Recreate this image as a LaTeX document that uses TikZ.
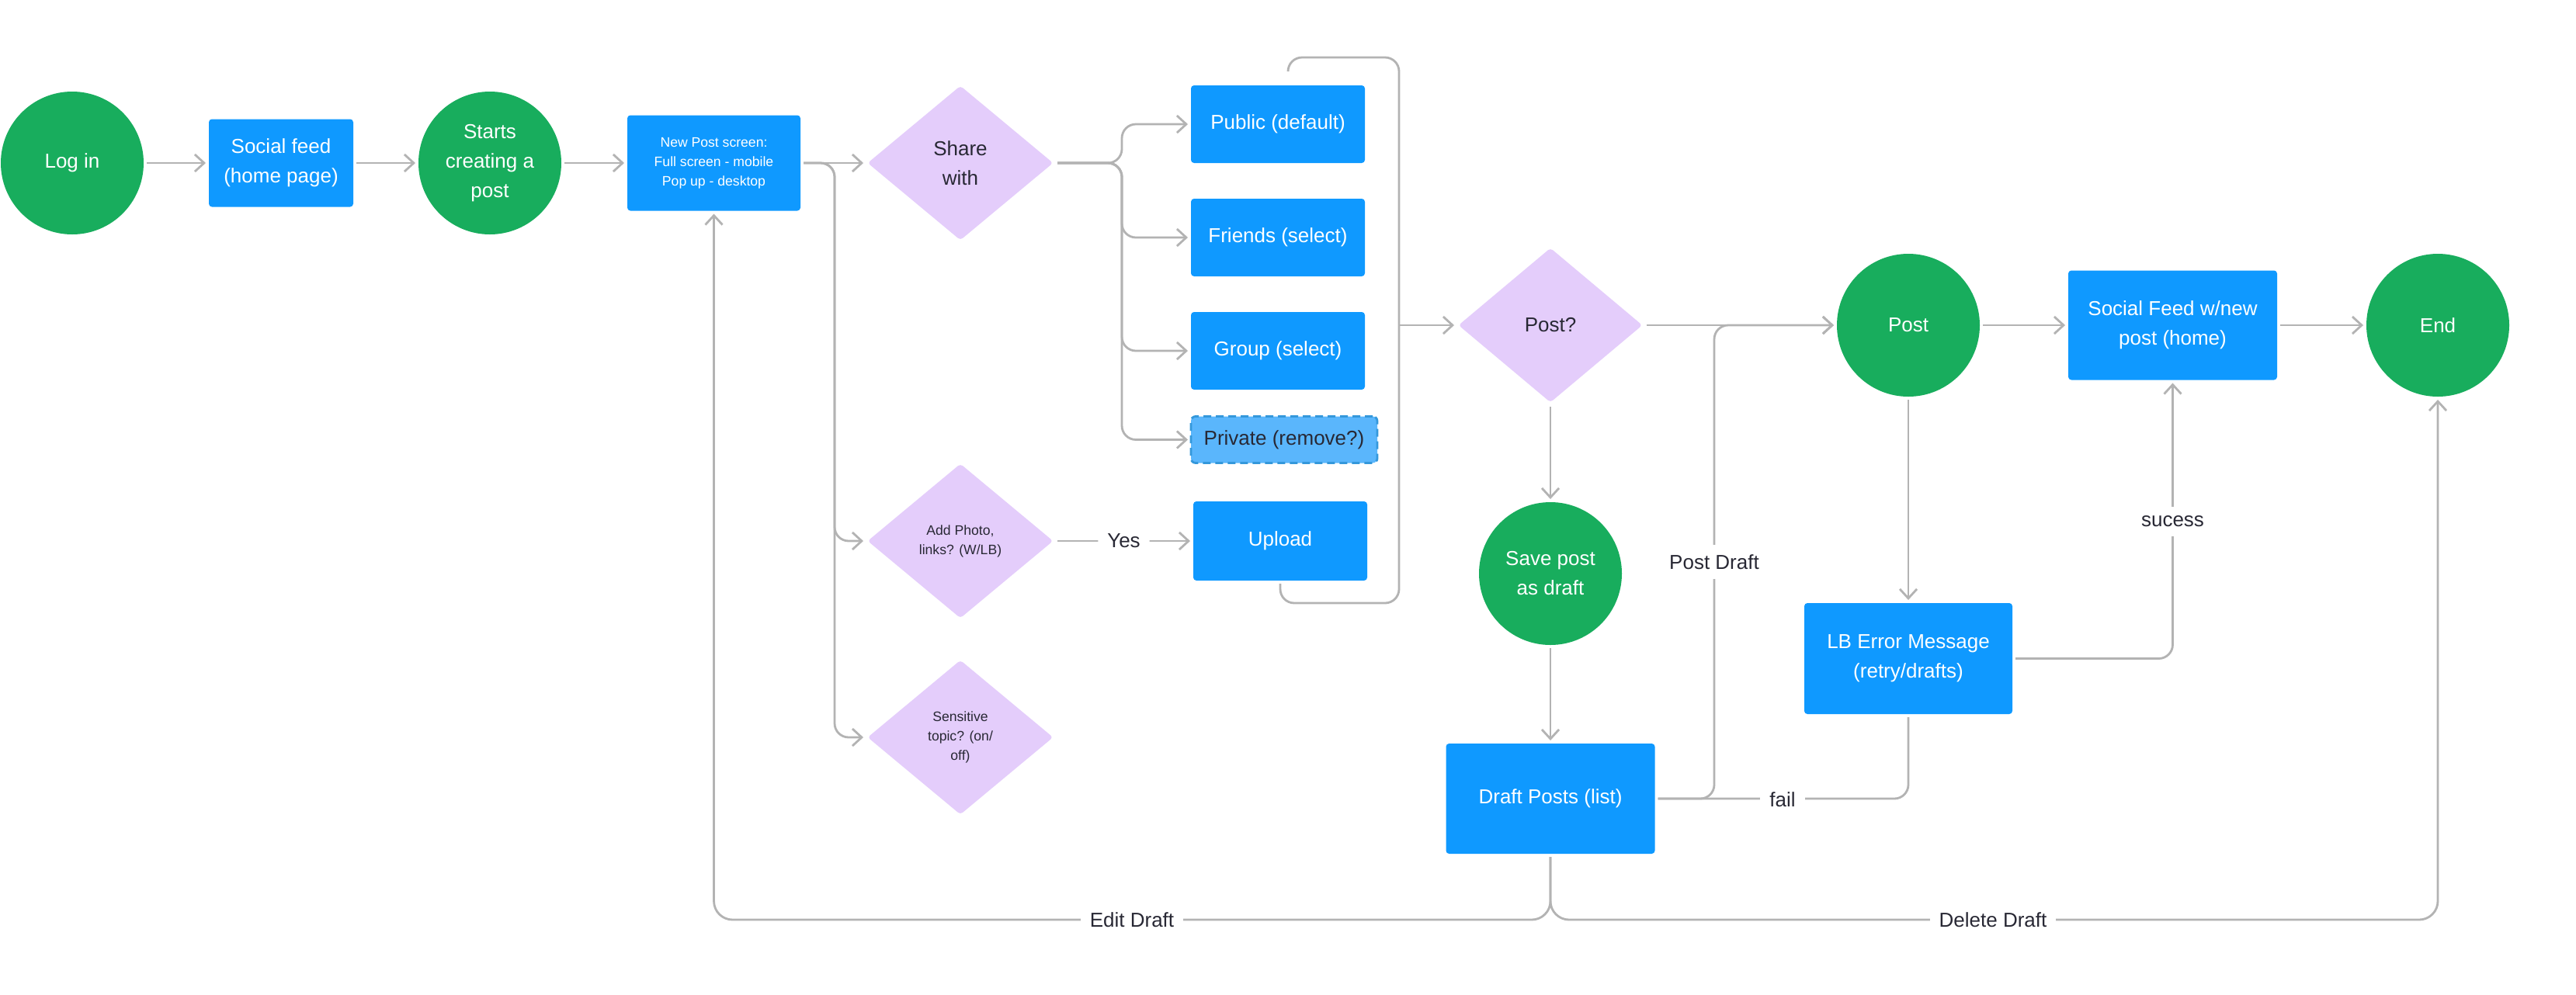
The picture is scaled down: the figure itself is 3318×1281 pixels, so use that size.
\documentclass[tikz,border=0pt]{standalone}
\usepackage{fontspec}
\setmainfont{Liberation Sans}
\usetikzlibrary{shapes.geometric,arrows.meta}
\definecolor{cgreen}{RGB}{24,173,93}
\definecolor{cblue}{RGB}{15,153,255}
\definecolor{cpurple}{RGB}{228,205,251}
\definecolor{cprivfill}{RGB}{90,182,252}
\definecolor{cprivline}{RGB}{52,152,219}
\definecolor{cline}{RGB}{179,179,179}
\definecolor{ctext}{RGB}{40,40,52}
\newcommand\fbig{\fontsize{13}{19}\selectfont}
\newcommand\fsmall{\fontsize{8.8}{12.5}\selectfont}
\begin{document}
\begin{tikzpicture}[x=0.5pt,y=-0.5pt,
  circ/.style={circle,fill=cgreen,minimum size=92pt,inner sep=0pt,outer sep=2pt,text=white,align=center,font=\fbig},
  blk/.style={rectangle,rounded corners=2pt,fill=cblue,inner sep=0pt,outer sep=2pt,text=white,align=center,font=\fbig},
  dia/.style={diamond,fill=cpurple,rounded corners=2pt,minimum width=121pt,minimum height=101pt,inner sep=0pt,outer sep=2pt,text=ctext,align=center,font=\fbig},
  conn/.style={draw=cline,line width=1.4pt,rounded corners=9pt},
  arr/.style={conn,-{Straight Barb[length=6pt,width=11pt]}},
  lbl/.style={fill=white,text=ctext,font=\fbig,inner sep=6pt}]
\useasboundingbox[fill=white] (0,0) rectangle (3318,1281);

% nodes
\node[circ] (login) at (93,210) {Log in};
\node[blk,minimum width=93pt,minimum height=56.5pt] (feed) at (362,210) {Social feed\\(home page)};
\node[circ] (starts) at (631,210) {Starts\\creating a\\post};
\node[blk,minimum width=111.5pt,minimum height=61.5pt,font=\fsmall] (newpost) at (919.5,210) {New Post screen:\\Full screen - mobile\\Pop up - desktop};
\node[dia] (share) at (1237,210) {Share\\with};
\node[blk,minimum width=112pt,minimum height=50pt] (public) at (1646,160) {Public (default)};
\node[blk,minimum width=112pt,minimum height=50pt] (friends) at (1646,306) {Friends (select)};
\node[blk,minimum width=112pt,minimum height=50pt] (group) at (1646,452) {Group (select)};
\node[rectangle,rounded corners=3pt,fill=cprivfill,draw=cprivline,line width=1.4pt,dash pattern=on 5pt off 3pt,
      minimum width=120pt,minimum height=30pt,inner sep=0pt,outer sep=2pt,text=ctext,font=\fbig] (private) at (1654,566.5) {Private (remove?)};
\node[dia,font=\fsmall] (addphoto) at (1237,697) {Add Photo,\\links? (W/LB)};
\node[blk,minimum width=112pt,minimum height=51pt] (upload) at (1649,697) {Upload};
\node[dia,font=\fsmall] (sensitive) at (1237,950) {Sensitive\\topic? (on/\\off)};
\node[dia,minimum width=120pt] (postq) at (1997,419) {Post?};
\node[circ] (save) at (1997,739) {Save post\\as draft};
\node[blk,minimum width=134.5pt,minimum height=71pt] (draft) at (1997,1029) {Draft Posts (list)};
\node[circ] (post) at (2458,419) {Post};
\node[blk,minimum width=134pt,minimum height=71.5pt] (lberr) at (2458,848.5) {LB Error Message\\(retry/drafts)};
\node[blk,minimum width=134.5pt,minimum height=70.5pt] (sfeed) at (2798.5,419) {Social Feed w/new\\post (home)};
\node[circ] (end) at (3140,419) {End};

% helper coordinates
\coordinate (nj) at (1075,210);
\coordinate (sj) at (1445,210);
\coordinate (rj) at (1802,419);
\coordinate (pdtop) at (2208,419);
\coordinate (bot) at (1997,1185);

% main flow
\draw[arr] (login) -- (feed);
\draw[arr] (feed) -- (starts);
\draw[arr] (starts) -- (newpost);
\draw[arr] (newpost.east) -- (share.west);
\draw[arr] (newpost.east) -- (nj) |- (addphoto.west);
\draw[arr] (newpost.east) -- (nj) |- (sensitive.west);

\draw[arr] (share.east) -- (sj) |- (public.west);
\draw[arr] (share.east) -- (sj) |- (friends.west);
\draw[arr] (share.east) -- (sj) |- (group.west);
\draw[arr] (share.east) -- (sj) |- (private.west);

\draw[conn] ([xshift=6.5pt,yshift=7pt]public.north) |- (1802,74) -- (1802,777) -| (upload.south);
\draw[arr] (rj) -- (postq.west);

\draw[arr] (addphoto.east) -- node[lbl] (yes) {Yes} (upload.west);

\draw[arr] (postq.east) -- (post.west);
\draw[arr] (postq.south) -- (save.north);
\draw[arr] (save.south) -- (draft.north);

\draw[arr] (draft.east) -| (pdtop) -- (post.west);
\node[lbl] (pdlbl) at (2208,724) {Post Draft};

\draw[arr] (post.south) -- (lberr.north);
\draw[conn] (lberr.south) |- (draft.east);
\node[lbl] (faillbl) at (2296,1030) {fail};

\draw[arr] (lberr.east) -| (sfeed.south);
\node[lbl] (suclbl) at (2798.5,672) {sucess};

\draw[arr] (post.east) -- (sfeed.west);
\draw[arr] (sfeed.east) -- (end.west);

\draw[arr,rounded corners=12pt] (draft.south) -- (bot) -| (newpost.south);
\draw[arr,rounded corners=12pt] (draft.south) -- (bot) -| (end.south);
\node[lbl] (editlbl) at (1458,1185) {Edit Draft};
\node[lbl] (dellbl) at (2567,1185) {Delete Draft};
\end{tikzpicture}
\end{document}
